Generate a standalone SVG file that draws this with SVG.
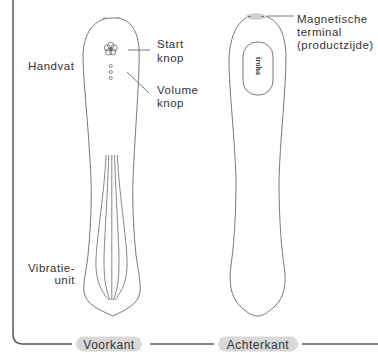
<svg xmlns="http://www.w3.org/2000/svg" width="378" height="353" viewBox="0 0 378 353">
  <style>
    .outline { fill: none; stroke: #555; stroke-width: 0.8; }
    .thin { fill: none; stroke: #555; stroke-width: 0.7; }
    .leader { fill: none; stroke: #555; stroke-width: 0.8; }
    .frame { fill: none; stroke: #5a5a5a; stroke-width: 1.5; }
    .label { font-family: "Liberation Sans", Arial, sans-serif; font-size: 11.5px; letter-spacing: 0.5px; fill: #333; }
    .pill { fill: #d9d9d9; }
    .pilltext { font-family: "Liberation Sans", Arial, sans-serif; font-size: 12px; letter-spacing: 0.5px; fill: #333; text-anchor: middle; }
  </style>

  <!-- frame and view captions -->
  <g id="connectors">
    <path class="frame" d="M13,0 V334 Q13,344 23,344 H72"/>
    <path class="frame" d="M150,344 H214"/>
    <path class="frame" d="M302,344 H378"/>
    <line class="leader" x1="128" y1="50" x2="150" y2="50"/>
    <line class="leader" x1="127" y1="72" x2="149" y2="93"/>
    <line class="leader" x1="267" y1="16" x2="294" y2="16"/>
  </g>

  <g id="caption-front">
    <rect class="pill" x="76" y="336.5" width="66" height="15" rx="7.5"/>
    <text class="pilltext" x="109" y="348.5">Voorkant</text>
  </g>
  <g id="caption-back">
    <rect class="pill" x="218" y="336.5" width="80" height="15" rx="7.5"/>
    <text class="pilltext" x="258" y="348.5">Achterkant</text>
  </g>

  <!-- front view -->
  <g id="front">
    <path class="outline" d="M112,18 C126,17 137,25 139,48 C140,75 135,130 133,180 C132,205 134,235 136,255 C138,270 141,282 140,292 C138,305 125,310 113,316 C100,310 86,305 84,292 C83,280 87,268 88,255 C90,235 92,205 91,180 C89,130 83,80 83,55 C84,28 98,18 112,18 Z"/>
    <path d="M103,18.3 H107 M116.5,18.3 H120.5" stroke="#999" stroke-width="1.6" fill="none"/>
    <!-- vibration unit ribs -->
    <path class="thin" d="M106,155 C104,200 95,245 96,268 C97,285 104,295 109,300"/>
    <path class="thin" d="M108.7,155 C107.5,200 104,240 104,262 C104,282 107,294 110.5,300"/>
    <path class="thin" d="M111.8,155 V300" stroke-width="0.9"/>
    <path class="thin" d="M114.6,155 C115.8,200 119,240 119,262 C119,282 116.5,294 113,300"/>
    <path class="thin" d="M117.3,155 C119.5,200 128,245 127,268 C126,285 119.5,295 114.5,300"/>
  </g>

  <g id="start-button">
    <g class="thin" stroke-width="0.7">
      <circle cx="110.7" cy="45.4" r="3.1"/>
      <circle cx="114.1" cy="47.9" r="3.1"/>
      <circle cx="112.8" cy="51.9" r="3.1"/>
      <circle cx="108.6" cy="51.9" r="3.1"/>
      <circle cx="107.3" cy="47.9" r="3.1"/>
      <circle cx="110.7" cy="49.2" r="1.6"/>
    </g>
  </g>
  <g id="volume-button">
    <circle class="thin" cx="110.7" cy="66" r="1.6"/>
    <circle class="thin" cx="110.7" cy="72" r="1.6"/>
    <circle class="thin" cx="110.7" cy="78" r="1.6"/>
  </g>

  <!-- back view -->
  <g id="back">
    <path class="outline" d="M257,15 C272,15 285,25 286,55 C286,90 280,140 279,180 C279,215 281,245 284,265 C287,285 284,298 274,307 C268,312 263,316 258,316 C252,316 246,312 240,306 C230,296 229,282 231,265 C234,245 236,215 236,180 C235,140 229,90 229,60 C230,28 243,15 257,15 Z"/>
    <ellipse cx="256" cy="16.5" rx="10.5" ry="3.2" fill="#d0d0d0"/>
    <path d="M248,16.5 H251 M261,16.5 H264" stroke="#777" stroke-width="1" fill="none"/>
    <rect class="outline" x="243" y="42" width="30" height="53" rx="14"/>
    <text transform="translate(255.5,66) rotate(90)" text-anchor="middle" font-family="Liberation Serif, serif" font-weight="bold" font-size="8" fill="#444">iroha</text>
  </g>

  <!-- labels -->
  <g id="label-handvat"><text class="label" x="28" y="70">Handvat</text></g>
  <g id="label-start">
    <text class="label" x="157" y="48">Start</text>
    <text class="label" x="157" y="61.5">knop</text>
  </g>
  <g id="label-volume">
    <text class="label" x="157" y="94">Volume</text>
    <text class="label" x="157" y="107">knop</text>
  </g>
  <g id="label-vibratie">
    <text class="label" x="75" y="271.5" text-anchor="end">Vibratie-</text>
    <text class="label" x="75" y="284" text-anchor="end">unit</text>
  </g>
  <g id="label-terminal">
    <text class="label" x="297" y="23">Magnetische</text>
    <text class="label" x="297" y="36">terminal</text>
    <text class="label" x="297" y="49">(productzijde)</text>
  </g>
</svg>
